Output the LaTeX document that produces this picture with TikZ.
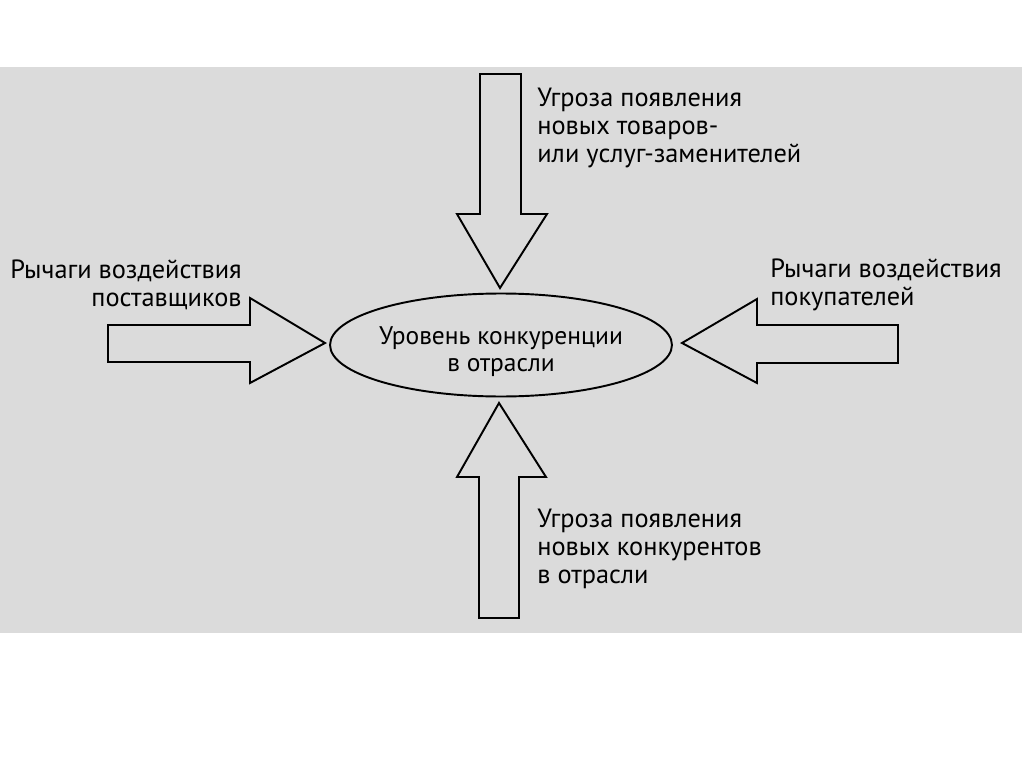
\documentclass[tikz,border=0pt]{standalone}
\usepackage{fontspec}
\setmainfont{PT Sans}
\usetikzlibrary{shapes.geometric}
\tikzset{
  blockarrow/.style={draw, line width=1.1pt, line join=miter},
  hub/.style={draw, ellipse, line width=1.1pt, minimum width=6.84cm, minimum height=2.06cm, inner sep=0pt},
  forcelabel/.style={font=\fontsize{15}{16}\selectfont, inner sep=0pt},
  hublabel/.style={font=\fontsize{14.5}{15.5}\selectfont, inner sep=0pt, align=center}
}
\begin{document}
\begin{tikzpicture}[x=0.02cm, y=-0.02cm]
  \useasboundingbox (0,0) rectangle (1024,767);
  \fill[white] (0,0) rectangle (1024,767);
  \fill[black!14] (0,67) rectangle (1022,633);
  % centre of the scheme
  \node[hub] (level) at (501,345) {};
  \node[hublabel] (leveltext) at (501,352) {Уровень конкуренции\\в отрасли};
  % four forces
  \draw[blockarrow] (480,74) -- (521,74) -- (521,214) -- (547,214) -- (500,288) -- (457,214) -- (480,214) -- cycle;
  \draw[blockarrow] (479,618) -- (519,618) -- (519,477) -- (546,477) -- (499,403) -- (457,477) -- (479,477) -- cycle;
  \draw[blockarrow] (108,325) -- (250,325) -- (250,298) -- (325,343) -- (250,383) -- (250,362) -- (108,362) -- cycle;
  \draw[blockarrow] (898,325) -- (757,325) -- (757,299) -- (682,343) -- (757,383) -- (757,363) -- (898,363) -- cycle;
  % labels
  \node[forcelabel, anchor=west, align=left] (subst) at (537,128) {Угроза появления\\новых товаров-\\или услуг-заменителей};
  \node[forcelabel, anchor=west, align=left] (entrants) at (537,549) {Угроза появления\\новых конкурентов\\в отрасли};
  \node[forcelabel, anchor=east, align=right] (suppliers) at (242,285) {Рычаги воздействия\\поставщиков};
  \node[forcelabel, anchor=west, align=left] (buyers) at (770,285) {Рычаги воздействия\\покупателей};
\end{tikzpicture}
\end{document}
